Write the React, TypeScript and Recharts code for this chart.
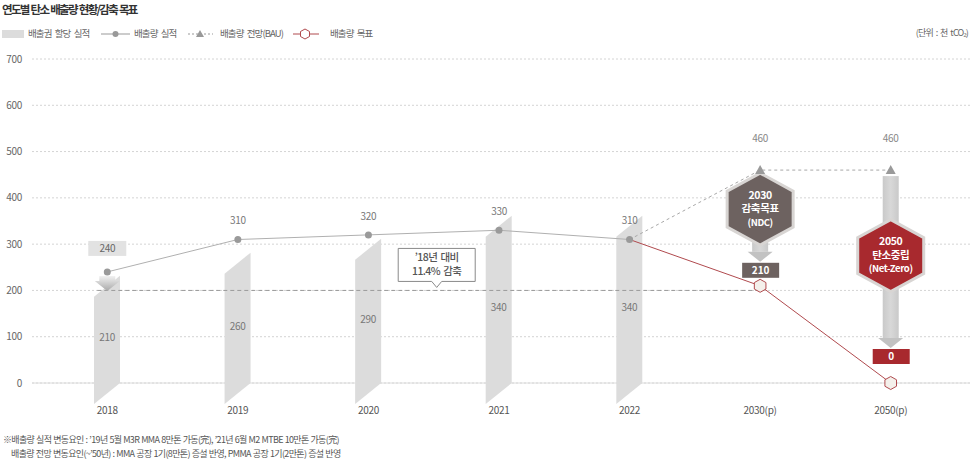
import React from 'react';
import {
  ComposedChart, Bar, Line, XAxis, YAxis, CartesianGrid, ReferenceArea, ReferenceLine, LabelList,
} from 'recharts';

const categories = ['2018', '2019', '2020', '2021', '2022', '2030(p)', '2050(p)'];
const allocation = [210, 260, 290, 340, 340, null, null];
const actual = [240, 310, 320, 330, 310, null, null];
const bau = [null, null, null, null, 310, 460, 460];
const target = [null, null, null, null, 310, 210, 0];
const yTicks = [0, 100, 200, 300, 400, 500, 600, 700];
const reductionBase = 200;
const calloutLines = ['’18년 대비', '11.4% 감축'];
const ndcLines = ['2030', '감축목표', '(NDC)'];
const netZeroLines = ['2050', '탄소중립', '(Net-Zero)'];
const legendItems = ['배출권 할당 실적', '배출량 실적', '배출량 전망(BAU)', '배출량 목표'];
const titleText = '연도별 탄소 배출량 현황/감축 목표';
const unitText = '(단위 : 천 tCO₂)';
const footnotes = [
  '※배출량 실적 변동요인 : ’19년 5월 M3R MMA 8만톤 가동(完), ’21년 6월 M2 MTBE 10만톤 가동(完)',
  '배출량 전망 변동요인(~’50년) : MMA 공장 1기(8만톤) 증설 반영, PMMA 공장 1기(2만톤) 증설 반영',
];

const data = categories.map((cat, i) => ({
  cat,
  alloc: allocation[i],
  actual: actual[i],
  bau: bau[i],
  target: target[i],
}));

const FONT = "'Noto Sans CJK KR', 'Noto Sans', sans-serif";
const RED = '#a8292e';
const RED_LINE = '#b04a4e';
const DARK = '#6d6260';

const hexPoints = (cx: number, cy: number, r: number, w: number) =>
  `${cx},${cy - r} ${cx + w},${cy - r / 2} ${cx + w},${cy + r / 2} ${cx},${cy + r} ${cx - w},${cy + r / 2} ${cx - w},${cy - r / 2}`;

const Parallelogram = (p: any) => {
  const { x, y, width: w, height: h } = p;
  if (h == null || isNaN(y) || !w) return <g />;
  const pts = `${x},${y + 11} ${x + w},${y - 10} ${x + w},${y + h} ${x},${y + h + 21}`;
  return <polygon points={pts} fill="#dcdcdc" />;
};

const BarValueLabel = (p: any) => {
  const { x, y, width, height, value } = p;
  if (value == null) return null;
  return (
    <text x={x + width / 2} y={y + height / 2 + 4} textAnchor="middle" dominantBaseline="middle"
      fontSize={10} fill="#777" fontFamily={FONT} letterSpacing={-0.3}>
      {value}
    </text>
  );
};

const ActualLabel = (p: any) => {
  const { x, y, value, index } = p;
  if (value == null) return null;
  if (index === 0) {
    return (
      <g>
        <defs>
          <linearGradient id="arrowGrad" x1="0" y1="0" x2="0" y2="1">
            <stop offset="0%" stopColor="#f2f2f2" />
            <stop offset="100%" stopColor="#a9a9a9" />
          </linearGradient>
        </defs>
        <rect x={x - 19} y={y - 31} width={38} height={15} fill="#e2e2e2" />
        <text x={x} y={y - 23} textAnchor="middle" dominantBaseline="middle" fontSize={10}
          fill="#666" fontFamily={FONT} letterSpacing={-0.3}>{value}</text>
        <polygon
          points={`${x - 8},${y + 4} ${x + 8},${y + 4} ${x + 8},${y + 9} ${x + 12.5},${y + 9} ${x},${y + 19} ${x - 12.5},${y + 9} ${x - 8},${y + 9}`}
          fill="url(#arrowGrad)" />
      </g>
    );
  }
  return (
    <text x={x} y={y - 18} textAnchor="middle" dominantBaseline="middle" fontSize={10}
      fill="#777" fontFamily={FONT} letterSpacing={-0.3}>{value}</text>
  );
};

const BauDot = (p: any) => {
  const { cx, cy, index } = p;
  if (index < 5 || cy == null) return <g key={`b${index}`} />;
  return <polygon key={`b${index}`} points={`${cx},${cy - 5} ${cx + 5},${cy + 4} ${cx - 5},${cy + 4}`} fill="#9a9a9a" />;
};

const BauLabel = (p: any) => {
  const { x, y, value, index } = p;
  if (index < 5 || value == null) return null;
  return (
    <text x={x} y={y - 31} textAnchor="middle" dominantBaseline="middle" fontSize={10}
      fill="#888" fontFamily={FONT} letterSpacing={-0.3}>{value}</text>
  );
};

const TargetDot = (p: any) => {
  const { cx, cy, index } = p;
  if (index < 5 || cy == null) return <g key={`t${index}`} />;
  return <polygon key={`t${index}`} points={hexPoints(cx, cy, 6.5, 5.8)} fill="#f4f0eb" stroke={RED_LINE} strokeWidth={1} />;
};

const makeTargetShape = (cfg: { hexDy: number; tipUp: number; boxTopUp: number; fill: string; lines: string[]; value: number | null; id: string }) =>
  (p: any) => {
    const { x1, y1, y2 } = p;
    const cx = x1;
    const tipY = y2 - cfg.tipUp;
    const headTop = tipY - 10;
    const hy = y1 + cfg.hexDy;
    const boxTop = y2 - cfg.boxTopUp;
    return (
      <g>
        <defs>
          <linearGradient id={cfg.id} x1="0" y1="0" x2="1" y2="0">
            <stop offset="0%" stopColor="#c9c9c9" />
            <stop offset="50%" stopColor="#d8d8d8" />
            <stop offset="100%" stopColor="#c9c9c9" />
          </linearGradient>
        </defs>
        <rect x={cx - 8} y={y1 + 6} width={16} height={headTop - y1 - 6} fill={`url(#${cfg.id})`} />
        <polygon points={`${cx - 12.5},${headTop} ${cx + 12.5},${headTop} ${cx},${tipY}`} fill="#c2c2c2" />
        <polygon points={hexPoints(cx, hy, 36, 33)} fill={cfg.fill} stroke="#d8d5d3" strokeWidth={3} />
        {cfg.lines.map((t, i) => (
          <text key={i} x={cx} y={hy - 13 + i * 13.5} textAnchor="middle" dominantBaseline="middle"
            fontSize={i === 2 ? 9.5 : 10.5} fontWeight="bold" fill="#fff" fontFamily={FONT} letterSpacing={-0.4}>
            {t}
          </text>
        ))}
        <rect x={cx - 18} y={boxTop} width={37} height={15} fill={cfg.fill} />
        <text x={cx + 0.5} y={boxTop + 8} textAnchor="middle" dominantBaseline="middle" fontSize={10}
          fontWeight="bold" fill="#fff" fontFamily={FONT}>{cfg.value}</text>
      </g>
    );
  };

const ndcShape = makeTargetShape({ hexDy: 39, tipUp: 24, boxTopUp: 23, fill: DARK, lines: ndcLines, value: target[5], id: 'stemA' });
const nzShape = makeTargetShape({ hexDy: 85.5, tipUp: 35, boxTopUp: 34, fill: RED, lines: netZeroLines, value: target[6], id: 'stemB' });

const BaseLineShape = (p: any) => {
  const { x1, y1, x2 } = p;
  const y = y1;
  const mx = (x1 + x2) / 2 + 3;
  return (
    <g>
      <line x1={x1 - 10} y1={y} x2={x2} y2={y} stroke="#9a9a9a" strokeDasharray="4 3" strokeWidth={1} />
      <path d={`M${mx - 38.5},${y - 42} H${mx + 38.5} V${y - 9} H${mx + 5} L${mx},${y - 3} L${mx - 5},${y - 9} H${mx - 38.5} Z`}
        fill="#fff" stroke="#8a8a8a" strokeWidth={1} />
      {calloutLines.map((t, i) => (
        <text key={i} x={mx} y={y - 32.5 + i * 14} textAnchor="middle" dominantBaseline="middle" fontSize={10.5}
          fontWeight={500} fill="#555" fontFamily={FONT} letterSpacing={-0.6} wordSpacing={1.5}>{t}</text>
      ))}
    </g>
  );
};

const AreaShape = (p: any) => {
  const { x, y, width, height } = p;
  return <rect x={x - 7} y={y - 14} width={width + 21} height={height + 54} fill="#f6f3f0" />;
};

const legendText = { dominantBaseline: 'middle' as const, fontSize: 9.5, fill: '#666', fontFamily: FONT, letterSpacing: -0.9, wordSpacing: 2 };

export default function App() {
  return (
    <div style={{ position: 'relative', width: 977, height: 466, fontFamily: FONT }}>
      <style>{`body{margin:0;background:#fff}`}</style>
      <ComposedChart width={977} height={466} data={data} margin={{ top: 59, right: 7, bottom: 0, left: 0 }}>
        <ReferenceArea x1="2030(p)" x2="2050(p)" y1={0} y2={700} shape={AreaShape} zIndex={-200} />
        <CartesianGrid vertical={false} stroke="#d4d4d4" strokeDasharray="2 2" />
        <XAxis dataKey="cat" height={83} padding={{ left: 10, right: 14 }} tickLine={false} tickSize={0}
          tickMargin={24} axisLine={{ stroke: '#dcdcdc' }}
          tick={{ fontSize: 10, fill: '#555', fontFamily: FONT, letterSpacing: -0.3 }} interval={0} />
        <YAxis domain={[0, 700]} ticks={yTicks} width={32} tickLine={false} axisLine={false} tickSize={0}
          tickMargin={10} tick={{ fontSize: 10, fill: '#666', fontFamily: FONT, letterSpacing: -0.3 }} />
        <Bar dataKey="alloc" barSize={26} shape={Parallelogram} isAnimationActive={false}>
          <LabelList dataKey="alloc" content={BarValueLabel} />
        </Bar>
        <ReferenceLine segment={[{ x: '2018', y: reductionBase }, { x: '2030(p)', y: reductionBase }]} shape={BaseLineShape} />
        <Line dataKey="actual" stroke="#b0b0b0" strokeWidth={1} isAnimationActive={false}
          dot={{ r: 3.5, fill: '#9a9a9a', stroke: 'none' }} label={ActualLabel} />
        <Line dataKey="bau" stroke="#a8a8a8" strokeWidth={1} strokeDasharray="3 3" isAnimationActive={false}
          dot={BauDot} label={BauLabel} />
        <ReferenceLine segment={[{ x: '2030(p)', y: bau[5] as number }, { x: '2030(p)', y: target[5] as number }]} shape={ndcShape} />
        <ReferenceLine segment={[{ x: '2050(p)', y: bau[6] as number }, { x: '2050(p)', y: target[6] as number }]} shape={nzShape} />
        <Line dataKey="target" stroke={RED_LINE} strokeWidth={1} isAnimationActive={false} dot={TargetDot} />
      </ComposedChart>
      <svg width={977} height={466} style={{ position: 'absolute', left: 0, top: 0, pointerEvents: 'none' }}>
        <text x={2} y={11} dominantBaseline="middle" fontSize={11.5} fontWeight="bold" fill="#333"
          fontFamily={FONT} letterSpacing={-1.7} wordSpacing={1}>{titleText}</text>
        <rect x={2} y={30} width={22} height={8} fill="#dcdcdc" />
        <text x={28} y={34} {...legendText}>{legendItems[0]}</text>
        <line x1={101} y1={34} x2={130} y2={34} stroke="#999" strokeWidth={1} />
        <circle cx={115.5} cy={34} r={3} fill="#999" />
        <text x={134} y={34} {...legendText}>{legendItems[1]}</text>
        <line x1={188} y1={34} x2={213} y2={34} stroke="#999" strokeWidth={1} strokeDasharray="2 2" />
        <polygon points="200,30 204,37 196,37" fill="#999" />
        <text x={220} y={34} {...legendText}>{legendItems[2]}</text>
        <line x1={293} y1={34} x2={319} y2={34} stroke={RED_LINE} strokeWidth={1} />
        <polygon points={hexPoints(305, 34, 5, 4.5)} fill="#fff" stroke={RED_LINE} strokeWidth={1} />
        <text x={330} y={34} {...legendText}>{legendItems[3]}</text>
        <text x={968} y={34} dominantBaseline="middle" textAnchor="end" fontSize={9} fill="#666" fontFamily={FONT} letterSpacing={-0.8} wordSpacing={1.5}>{unitText}</text>
        <text x={3} y={441} dominantBaseline="middle" fontSize={9} fill="#555" fontFamily={FONT} letterSpacing={-0.65} wordSpacing={0.5}>{footnotes[0]}</text>
        <text x={11} y={455} dominantBaseline="middle" fontSize={9} fill="#555" fontFamily={FONT} letterSpacing={-0.65} wordSpacing={0.5}>{footnotes[1]}</text>
      </svg>
    </div>
  );
}
